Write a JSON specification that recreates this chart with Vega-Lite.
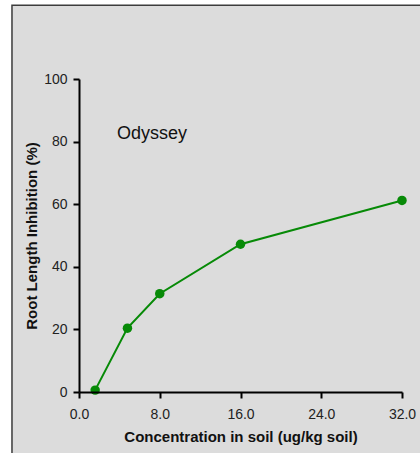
{
  "$schema": "https://vega.github.io/schema/vega-lite/v6.json",
  "autosize": {"type": "none"},
  "width": 323,
  "height": 313,
  "padding": {"left": 79, "top": 79, "right": 18, "bottom": 61},
  "background": "white",
  "config": {
    "view": {"stroke": null},
    "font": "Liberation Sans",
    "axis": {
      "grid": false,
      "labelFlush": false,
      "domainColor": "black",
      "domainWidth": 2,
      "tickColor": "black",
      "tickWidth": 2,
      "tickSize": 6,
      "labelFont": "Liberation Sans",
      "labelFontSize": 14,
      "labelColor": "#222222",
      "titleFont": "Liberation Sans",
      "titleFontSize": 15,
      "titleFontWeight": "bold",
      "titleColor": "#111111"
    }
  },
  "encoding": {
    "x": {"type": "quantitative",
      "scale": {"domain": [0, 32], "nice": false, "zero": false},
      "axis": {"zindex": 1, "values": [0, 8, 16, 24, 32], "format": ".1f", "title": "Concentration in soil (ug/kg soil)", "labelPadding": 9, "titlePadding": 8}},
    "y": {"type": "quantitative",
      "scale": {"domain": [0, 100], "nice": false},
      "axis": {"zindex": 1, "values": [0, 20, 40, 60, 80, 100], "title": "Root Length Inhibition (%)", "labelPadding": 6, "titlePadding": 4}}
  },
  "layer": [
    {
      "data": {"values": [{}]},
      "mark": {"type": "rect", "fill": "#dcdcdc", "stroke": "#3c3c3c", "strokeWidth": 1.5, "clip": false},
      "encoding": {
        "x": {"datum": -6.64, "type": "quantitative"},
        "x2": {"datum": 48},
        "y": {"datum": 123.6, "type": "quantitative"},
        "y2": {"datum": -40}
      }
    },
    {
      "data": {"values": [
        {"conc": 1.6, "inhibition": 0.6},
        {"conc": 4.8, "inhibition": 20.4},
        {"conc": 8.0, "inhibition": 31.4},
        {"conc": 16.0, "inhibition": 47.2},
        {"conc": 32.0, "inhibition": 61.2}
      ]},
      "mark": {"type": "line", "color": "#078a07", "strokeWidth": 2, "clip": false, "point": {"filled": true, "size": 90, "color": "#078a07"}},
      "encoding": {
        "x": {"field": "conc", "type": "quantitative"},
        "y": {"field": "inhibition", "type": "quantitative"}
      }
    },
    {
      "data": {"values": [{}]},
      "mark": {"type": "text", "text": "Odyssey", "align": "left", "baseline": "alphabetic", "fontSize": 18, "font": "Liberation Sans", "color": "#111111"},
      "encoding": {
        "x": {"datum": 3.76, "type": "quantitative"},
        "y": {"datum": 80.8, "type": "quantitative"}
      }
    }
  ]
}
